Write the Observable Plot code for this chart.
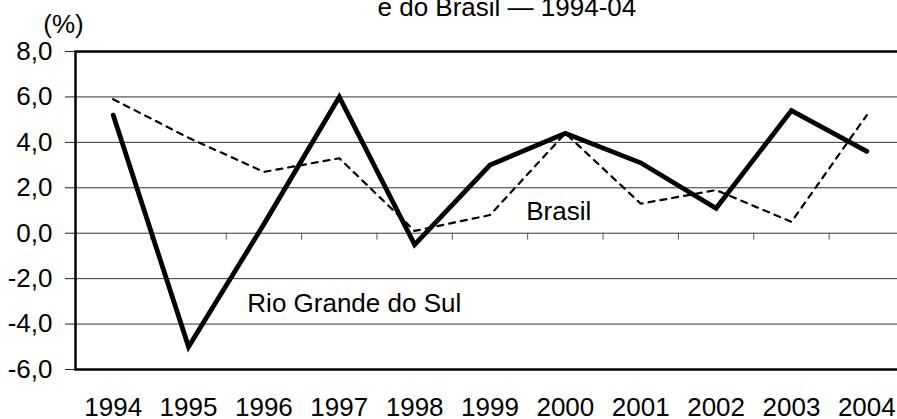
<!DOCTYPE html>
<html>
<head>
<meta charset="utf-8">
<script src="https://cdn.jsdelivr.net/npm/d3@7"></script>
<script src="https://cdn.jsdelivr.net/npm/@observablehq/plot@0.6"></script>
<style>
html, body { margin: 0; padding: 0; background: #fff; overflow: hidden; }
#chart svg { display: block; overflow: hidden; max-width: none; }
</style>
</head>
<body>
<div id="chart"></div>
<script>
// ---- data ----
const years = [1994, 1995, 1996, 1997, 1998, 1999, 2000, 2001, 2002, 2003, 2004];
const rioGrandeDoSul = [5.2, -5.0, 0.4, 6.0, -0.5, 3.0, 4.4, 3.1, 1.1, 5.4, 3.6];
const brasil = [5.9, 4.2, 2.7, 3.3, 0.1, 0.8, 4.4, 1.3, 1.9, 0.5, 5.2];
const yTicks = [-6, -4, -2, 0, 2, 4, 6, 8];
const titleText = "e do Brasil — 1994-04";
const unitText = "(%)";
const seriesNames = ["Rio Grande do Sul", "Brasil"];
// label anchor points in data units (year, %)
const labelYears = [1995.78, 1999.48];
const labelValues = [-3.49, 0.60];

// ---- layout ----
const W = 897, H = 419;
const mTop = 51, mBottom = 50, mLeft = 75, mRight = -7;
const pxPerUnit = (H - mTop - mBottom) / (yTicks[yTicks.length - 1] - yTicks[0]);
const boundaryTickPx = 7;

const rsRows = years.map((y, i) => ({year: y, value: rioGrandeDoSul[i]}));
const brRows = years.map((y, i) => ({year: y, value: brasil[i]}));
const labels = seriesNames.map((n, i) => ({label: n, year: labelYears[i], value: labelValues[i]}));
const boundaries = years.slice(0, -1).map(y => y + 0.5);
const gridValues = yTicks.slice(1, -1);
const fmt = d => d.toFixed(1).replace(".", ",");

const chart = Plot.plot({
  width: W,
  height: H,
  marginTop: mTop,
  marginBottom: mBottom,
  marginLeft: mLeft,
  marginRight: mRight,
  style: {
    fontFamily: "'Liberation Sans', Arial, Helvetica, sans-serif",
    fontSize: "26px",
    background: "#fff",
    color: "#000",
    overflow: "hidden"
  },
  x: {type: "linear", domain: [years[0] - 0.5, years[years.length - 1] + 0.5]},
  y: {type: "linear", domain: [yTicks[0], yTicks[yTicks.length - 1]]},
  marks: [
    Plot.ruleY(gridValues, {y: d => d, stroke: "#333", strokeWidth: 1}),
    Plot.ruleX(boundaries, {x: d => d, y1: 0, y2: -boundaryTickPx / pxPerUnit, stroke: "#555", strokeWidth: 1}),
    Plot.line(brRows, {x: "year", y: "value", stroke: "#000", strokeWidth: 2.2, strokeDasharray: "6,6", strokeLinejoin: "miter"}),
    Plot.line(rsRows, {x: "year", y: "value", stroke: "#000", strokeWidth: 4.8, strokeLinejoin: "miter", strokeMiterlimit: 10}),
    Plot.frame({stroke: "#000", strokeWidth: 2.5}),
    Plot.axisY(yTicks, {anchor: "left", tickSize: 10, tickPadding: 13, tickFormat: fmt, stroke: "#222", label: null}),
    Plot.axisX(years, {anchor: "bottom", tickSize: 0, tickPadding: 28, tickFormat: d => String(d), label: null}),
    Plot.text(labels, {x: "year", y: "value", text: "label", textAnchor: "start", lineAnchor: "bottom", fill: "#000"}),
    Plot.text([unitText], {frameAnchor: "top-left", text: d => d, dx: -12, dy: -19, textAnchor: "middle", lineAnchor: "bottom", fill: "#000"}),
    Plot.text([titleText], {frameAnchor: "top-left", text: d => d, dx: 302, dy: -36, textAnchor: "start", lineAnchor: "bottom", fill: "#000"})
  ]
});
document.getElementById("chart").appendChild(chart);
</script>
</body>
</html>
